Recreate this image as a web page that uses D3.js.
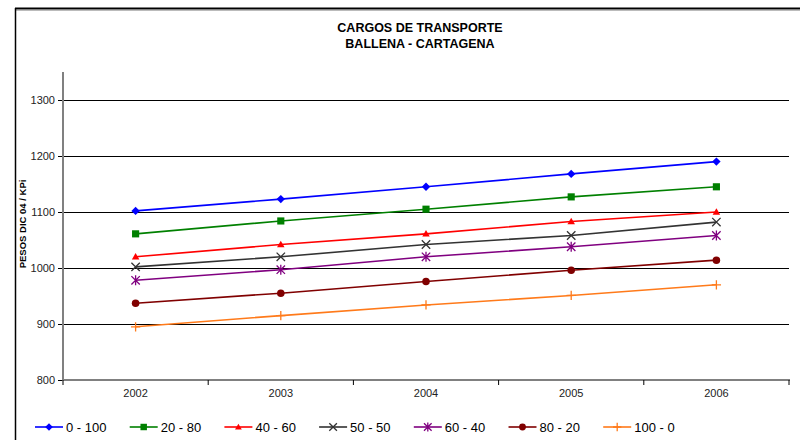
<!DOCTYPE html>
<html><head><meta charset="utf-8">
<script src="https://cdn.jsdelivr.net/npm/d3@7"></script>
<style>body{margin:0;background:#fff}svg{display:block;font-family:"Liberation Sans",Arial,sans-serif}</style>
</head><body><svg id="c" width="800" height="440"></svg>
<script>
const years = ["2002","2003","2004","2005","2006"];
const seriesNames = ["0 - 100","20 - 80","40 - 60","50 - 50","60 - 40","80 - 20","100 - 0"];
const s0_100 = [1102,1123,1145,1168,1190];
const s20_80 = [1061,1084,1105,1127,1145];
const s40_60 = [1020,1042,1061,1083,1100];
const s50_50 = [1002,1020,1042,1058,1082];
const s60_40 = [978,997,1020,1038,1058];
const s80_20 = [937,955,976,996,1014];
const s100_0 = [895,915,934,951,970];
const yTicks = [800,900,1000,1100,1200,1300];
const titleLines = ["CARGOS DE TRANSPORTE","BALLENA - CARTAGENA"];
const yTitle = "PESOS DIC 04 / KPi";

const colors = ["#0000ff","#008000","#ff0000","#333333","#800080","#800000","#ff7a1a"];
const shapes = ["diamond","square","triangle","x","star","circle","plus"];
const allValues = [s0_100,s20_80,s40_60,s50_50,s60_40,s80_20,s100_0];
const series = seriesNames.map((n,i)=>({name:n,values:allValues[i],color:colors[i],shape:shapes[i]}));

const svg = d3.select("#c");
// frame
svg.append("line").attr("x1",15).attr("x2",800).attr("y1",8.5).attr("y2",8.5).attr("stroke","#000").attr("stroke-width",2);
svg.append("line").attr("x1",16).attr("x2",800).attr("y1",10.5).attr("y2",10.5).attr("stroke","#bbb").attr("stroke-width",1);
svg.append("line").attr("x1",15.5).attr("x2",15.5).attr("y1",8).attr("y2",440).attr("stroke","#000").attr("stroke-width",1.5);

const x = d3.scaleBand().domain(years).range([63,789]).padding(0);
const y = d3.scaleLinear().domain([800,1350]).range([380,72]);
const cx = d => x(d)+x.bandwidth()/2;

// title
svg.append("g").selectAll("text").data(titleLines).join("text")
  .attr("x",420).attr("y",(d,i)=>32+i*15.5).attr("text-anchor","middle")
  .attr("font-size",12.5).attr("font-weight","bold").attr("fill","#000").text(d=>d);

// grid
svg.append("g").selectAll("line").data(yTicks.filter(t=>t>800)).join("line")
  .attr("x1",63).attr("x2",789).attr("y1",d=>Math.round(y(d))+0.5).attr("y2",d=>Math.round(y(d))+0.5)
  .attr("stroke","#000").attr("stroke-width",1);

// y axis
const ya = svg.append("g").attr("transform","translate(63,0)")
  .call(d3.axisLeft(y).tickValues(yTicks).tickSize(5).tickPadding(3).tickFormat(d3.format("d")));
ya.select(".domain").remove();
ya.selectAll(".tick line").attr("stroke","#000");
ya.selectAll("text").attr("font-size",11).attr("fill","#222").attr("font-family","Liberation Sans, Arial, sans-serif");
svg.append("line").attr("x1",63).attr("x2",63).attr("y1",72).attr("y2",381).attr("stroke","#808080").attr("stroke-width",2);

// x axis
const xa = svg.append("g").attr("transform","translate(0,380)")
  .call(d3.axisBottom(x).tickSize(0).tickPadding(9));
xa.select(".domain").remove();
xa.selectAll("text").attr("font-size",11).attr("fill","#222").attr("font-family","Liberation Sans, Arial, sans-serif");
svg.append("line").attr("x1",62).attr("x2",790).attr("y1",380).attr("y2",380).attr("stroke","#808080").attr("stroke-width",2);
const bounds = years.map(d=>x(d)).concat([x.range()[1]]);
svg.append("g").selectAll("line").data(bounds).join("line")
  .attr("x1",d=>d).attr("x2",d=>d).attr("y1",380).attr("y2",385).attr("stroke","#000");

// y title
svg.append("text").attr("transform","translate(26,224) rotate(-90)").attr("text-anchor","middle")
  .attr("font-size",9.5).attr("font-weight","bold").text(yTitle);

function marker(g, shape, color, size){
  const s=size;
  if(shape==="diamond") g.append("path").attr("d",`M0,${-s}L${s},0L0,${s}L${-s},0Z`).attr("fill",color);
  else if(shape==="square") g.append("rect").attr("x",-s*0.85).attr("y",-s*0.85).attr("width",s*1.7).attr("height",s*1.7).attr("fill",color);
  else if(shape==="triangle") g.append("path").attr("d",`M0,${-s*0.75}L${s*0.75},${s*0.55}L${-s*0.75},${s*0.55}Z`).attr("fill",color);
  else if(shape==="circle") g.append("circle").attr("r",s*0.9).attr("fill",color);
  else if(shape==="x") g.append("path").attr("d",`M${-s},${-s}L${s},${s}M${-s},${s}L${s},${-s}`).attr("stroke",color).attr("stroke-width",1.3).attr("fill","none");
  else if(shape==="star") g.append("path").attr("d",`M${-s},${-s}L${s},${s}M${-s},${s}L${s},${-s}M0,${-s*1.2}L0,${s*1.2}`).attr("stroke",color).attr("stroke-width",1.3).attr("fill","none");
  else if(shape==="plus") g.append("path").attr("d",`M${-s*1.1},0L${s*1.1},0M0,${-s*1.1}L0,${s*1.1}`).attr("stroke",color).attr("stroke-width",1.3).attr("fill","none");
}

const line = d3.line().x((d,i)=>cx(years[i])).y(d=>y(d));
const sg = svg.append("g").selectAll("g").data(series).join("g");
sg.append("path").attr("d",d=>line(d.values)).attr("fill","none").attr("stroke",d=>d.color).attr("stroke-width",1.6);
sg.each(function(s){
  const g=d3.select(this);
  s.values.forEach((v,i)=>{
    const m=g.append("g").attr("transform",`translate(${cx(years[i])},${y(v)})`);
    marker(m,s.shape,s.color,s.shape==="triangle"?5:4.2);
  });
});

// legend
const lg = svg.append("g").selectAll("g").data(series).join("g")
  .attr("transform",(d,i)=>`translate(${49+i*94.7},427)`);
lg.append("line").attr("x1",-14).attr("x2",14).attr("stroke",d=>d.color).attr("stroke-width",1.6);
lg.each(function(s){ marker(d3.select(this),s.shape,s.color,s.shape==="triangle"?4.5:3.8); });
lg.append("text").attr("x",17).attr("y",4.5).attr("font-size",13).attr("fill","#000").text(d=>d.name);
</script></body></html>
